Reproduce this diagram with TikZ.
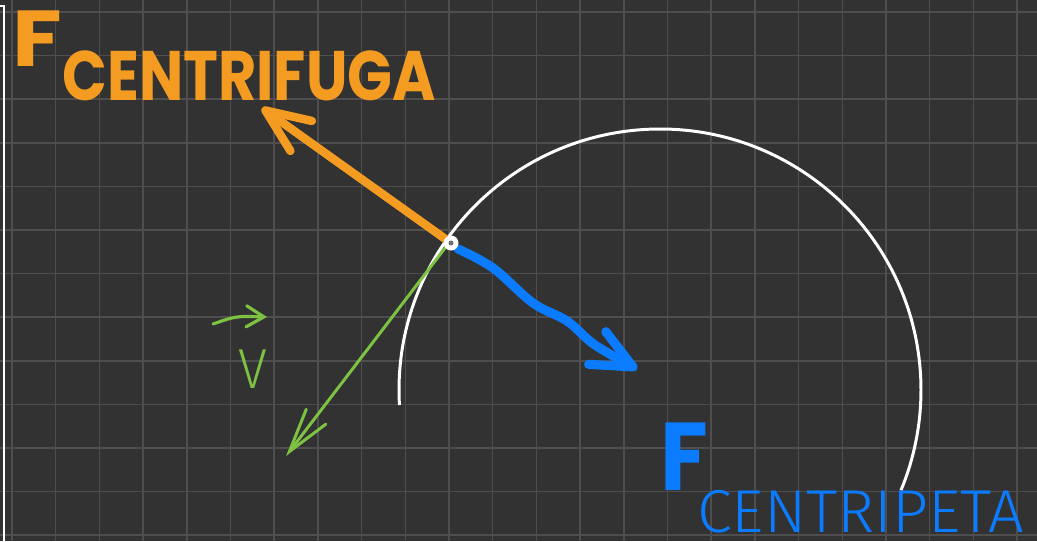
\documentclass[tikz,border=0pt]{standalone}
\usepackage{fontspec}
\usepackage{graphicx}
\usetikzlibrary{arrows.meta}
\newfontfamily\boldhand{Poppins}
\newfontfamily\thinhand{Fira Sans Light}
\definecolor{boardbg}{HTML}{323232}
\definecolor{boardgrid}{HTML}{4E4E4E}
\definecolor{fugaorange}{HTML}{F49B22}
\definecolor{petablue}{HTML}{0B7BFF}
\definecolor{velgreen}{HTML}{7DC242}
\tikzset{
    gridline/.style={boardgrid, line width=0.85pt},
    forcepen/.style={line width=4.8pt, line cap=round, line join=round},
    handtext/.style={inner sep=0pt, anchor=base west},
}
\begin{document}
\begin{tikzpicture}[x=0.02cm, y=-0.02cm]
    % lavagna
    \fill[boardbg] (0,0) rectangle (1037,541);
    \useasboundingbox (0,0) rectangle (1037,541);
    \foreach \gx in {0,...,23}
        \draw[gridline] ({12+43.7*\gx},0) -- ++(0,541);
    \foreach \gy in {0,...,12}
        \draw[gridline] (0,{12+43.6*\gy}) -- ++(1037,0);
    \draw[white, line width=1.2pt] (0,6) -- (4,6) -- (4,541);
    % traiettoria
    \draw[white, line width=1.7pt] (660,390) ++(176.7:261) arc[start angle=176.7, end angle=382.6, radius=261];
    \coordinate (pivot) at (451,243);
    % velocita
    \coordinate (velTip) at (286,456);
    \draw[velgreen, line width=1.7pt, line cap=round,
        -{Straight Barb[length=25pt, width=14pt, line cap=round]}] (445,248) -- (velTip);
    % forza centrifuga
    \coordinate (fugaTip) at (262,108);
    \draw[forcepen, fugaorange,
        -{Straight Barb[length=25pt, width=21pt, line cap=round, line join=round]}] (pivot) -- (fugaTip);
    % forza centripeta
    \coordinate (petaTip) at (637,369);
    \draw[forcepen, line width=5.2pt, petablue,
        -{Straight Barb[length=23pt, width=21pt, line cap=round, line join=round]}]
        plot[smooth, tension=0.6] coordinates {(458,249) (493,268) (533,303) (567,321) (595,345) (petaTip)};
    \fill[white] (pivot) circle (7.5);
    \fill[boardbg!70!white] (pivot) circle (2.5);
    % etichette
    \node[handtext, text=fugaorange] (fugaF) at (12,66) {\resizebox{28.3pt}{31.7pt}{\boldhand\bfseries F}};
    \node[handtext, text=fugaorange] (fugaText) at (62,100) {\resizebox{212.6pt}{28.3pt}{\boldhand\bfseries CENTRIFUGA}};
    \node[handtext, text=petablue] (petaF) at (660,490) {\resizebox{27.2pt}{38.5pt}{\boldhand\bfseries F}};
    \node[handtext, text=petablue] (petaText) at (697,532) {\resizebox{186pt}{24pt}{\thinhand CENTRIPETA}};
    \node[handtext, text=velgreen] (velLabel) at (238,388) {\resizebox{16.4pt}{22pt}{\thinhand V}};
    \draw[velgreen, line width=1.8pt, line cap=round,
        -{Straight Barb[length=10pt, width=12pt, line cap=round]}] (213,324) .. controls (236,316) .. (267,317);
\end{tikzpicture}
\end{document}
